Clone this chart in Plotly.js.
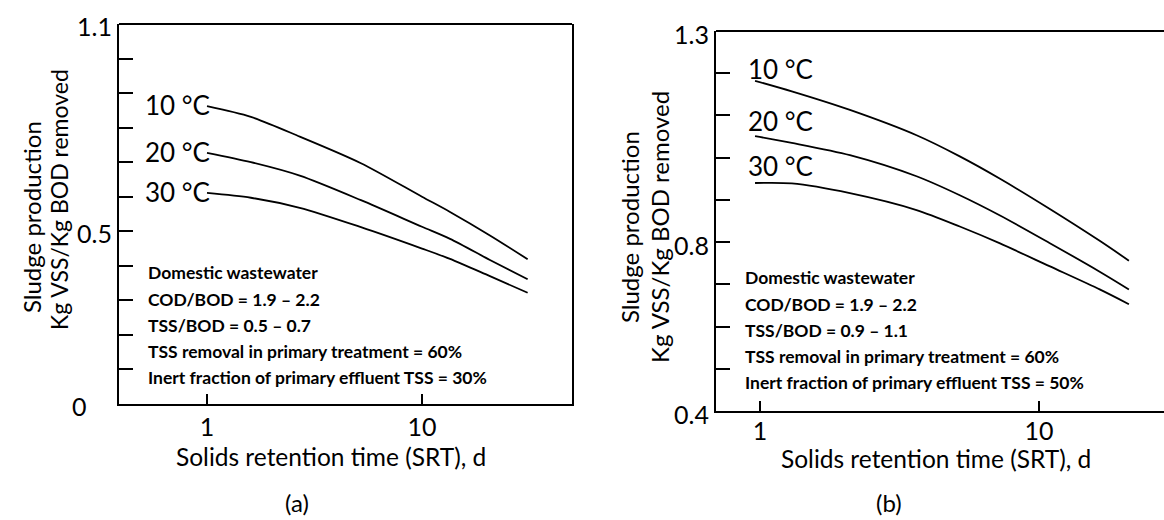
<!DOCTYPE html>
<html><head><meta charset="utf-8">
<script src="https://cdn.plot.ly/plotly-3.0.1.min.js"></script>
<style>html,body{margin:0;padding:0;background:#fff}#chart{width:1164px;height:520px}</style>
</head><body><div id="chart"></div>
<script>
// ---------- data ----------
const tempLabels = ['10 °C', '20 °C', '30 °C'];

// Panel (a)
const srtA = [1, 1.6, 2.7, 5.2, 10, 13.5, 20.7, 31];
const sludgeA10 = [0.862, 0.831, 0.774, 0.697, 0.600, 0.556, 0.488, 0.419];
const sludgeA20 = [0.727, 0.700, 0.661, 0.590, 0.513, 0.478, 0.417, 0.361];
const sludgeA30 = [0.611, 0.597, 0.568, 0.512, 0.450, 0.420, 0.370, 0.322];

// Panel (b)
const srtB = [0.96, 1.3, 2.1, 3.64, 5.2, 7.25, 10.9, 16.5, 21];
const sludgeB10 = [1.182, 1.157, 1.113, 1.053, 1.003, 0.950, 0.879, 0.803, 0.756];
const sludgeB20 = [1.051, 1.035, 1.006, 0.956, 0.911, 0.863, 0.798, 0.730, 0.688];
const sludgeB30 = [0.940, 0.939, 0.916, 0.876, 0.837, 0.797, 0.743, 0.688, 0.653];

// ticks
const xTickVals = [1, 10];
const xTickText = ['1', '10'];
const yTickValsA = [0, 0.1, 0.2, 0.3, 0.4, 0.5, 0.6, 0.7, 0.8, 0.9, 1.0, 1.1];
const yTickTextA = ['0\u00a0\u00a0\u00a0\u00a0', '', '', '', '', '0.5', '', '', '', '', '', '1.1'];
const yTickValsB = [0.4, 0.5, 0.6, 0.7, 0.8, 0.9, 1.0, 1.1, 1.2, 1.3];
const yTickTextB = ['0.4', '', '', '', '0.8', '', '', '', '', '1.3'];

const notesA = ['Domestic wastewater', 'COD/BOD = 1.9 \u2013 2.2', 'TSS/BOD = 0.5 \u2013 0.7',
  'TSS removal in primary treatment = 60%', 'Inert fraction of primary effluent TSS = 30%'];
const notesB = ['Domestic wastewater', 'COD/BOD = 1.9 \u2013 2.2', 'TSS/BOD = 0.9 \u2013 1.1',
  'TSS removal in primary treatment = 60%', 'Inert fraction of primary effluent TSS = 50%'];

const xTitle = 'Solids retention time (SRT), d';
const yTitle1 = 'Sludge production';
const yTitle2 = 'Kg VSS/Kg BOD removed';

// ---------- build ----------
const W = 1164, H = 520;
const px = v => v / W, py = v => 1 - v / H;
const FONT = 'Lato, "Open Sans", sans-serif';
const lineStyle = {color: '#000', width: 1.8, shape: 'spline', smoothing: 0.8};

function tr(x, y, xa, ya) {
  return {x: x, y: y, xaxis: xa, yaxis: ya, type: 'scatter', mode: 'lines',
    line: lineStyle, hoverinfo: 'skip', showlegend: false};
}
const data = [
  tr(srtA, sludgeA10, 'x', 'y'), tr(srtA, sludgeA20, 'x', 'y'), tr(srtA, sludgeA30, 'x', 'y'),
  tr(srtB, sludgeB10, 'x2', 'y2'), tr(srtB, sludgeB20, 'x2', 'y2'), tr(srtB, sludgeB30, 'x2', 'y2')
];

const axCommon = {showgrid: false, zeroline: false, linecolor: '#000', linewidth: 2,
  tickcolor: '#000', ticks: 'inside', tickmode: 'array', tickfont: {family: FONT, size: 25, color: '#000'}};

const annotations = [];
const seriesA = [sludgeA10, sludgeA20, sludgeA30];
const seriesB = [sludgeB10, sludgeB20, sludgeB30];
const shiftB = [12, 15, 17];
tempLabels.forEach((t, i) => {
  annotations.push({xref: 'x', yref: 'y', x: Math.log10(srtA[0]), y: seriesA[i][0], text: t,
    showarrow: false, xanchor: 'right', yanchor: 'middle', xshift: 4, yshift: 1, borderpad: 0,
    font: {family: FONT, size: 26, color: '#000'}});
  annotations.push({xref: 'x2', yref: 'y2', x: Math.log10(srtB[0]), y: seriesB[i][0], text: t,
    showarrow: false, xanchor: 'left', yanchor: 'middle', xshift: -8, yshift: shiftB[i], borderpad: 0,
    font: {family: FONT, size: 26, color: '#000'}});
});
const noteYA = [272, 299, 325, 351, 377];
const noteYB = [277, 304, 330, 356, 382];
notesA.forEach((t, i) => annotations.push({xref: 'paper', yref: 'paper', x: px(147), y: py(noteYA[i]),
  text: '<b>' + t + '</b>', showarrow: false, xanchor: 'left', yanchor: 'middle', borderpad: 0,
  font: {family: FONT, size: 17.5, color: '#000'}}));
notesB.forEach((t, i) => annotations.push({xref: 'paper', yref: 'paper', x: px(744), y: py(noteYB[i]),
  text: '<b>' + t + '</b>', showarrow: false, xanchor: 'left', yanchor: 'middle', borderpad: 0,
  font: {family: FONT, size: 17.5, color: '#000'}}));

function txt(x, y, t, size, angle) {
  annotations.push({xref: 'paper', yref: 'paper', x: px(x), y: py(y), text: t, showarrow: false,
    xanchor: 'center', yanchor: 'middle', textangle: angle || 0, borderpad: 0,
    font: {family: FONT, size: size, color: '#000'}});
}
txt(331, 456, xTitle, 24.5);
txt(936, 458, xTitle, 24.5);
txt(297, 502, '(a)', 24);
txt(889, 502, '(b)', 24);
txt(31, 217, yTitle1, 24, -90);
txt(59, 200, yTitle2, 23, -90);
txt(629, 227, yTitle1, 24, -90);
txt(659, 227, yTitle2, 24, -90);

const layout = {
  width: W, height: H, margin: {l: 0, r: 0, t: 0, b: 0},
  paper_bgcolor: '#fff', plot_bgcolor: '#fff', showlegend: false,
  font: {family: FONT, color: '#000', size: 22},
  xaxis: Object.assign({}, axCommon, {type: 'log', domain: [px(119), px(572)], range: [-0.4093, 1.6977],
    anchor: 'y', showline: true, ticklen: 10, tickwidth: 1.5, tickvals: xTickVals, ticktext: xTickText}),
  yaxis: Object.assign({}, axCommon, {domain: [py(404), py(24)], range: [0, 1.1], anchor: 'x',
    showline: true, mirror: true, ticklen: 14, tickwidth: 2, tickvals: yTickValsA, ticktext: yTickTextA,
    ticklabelshift: 3}),
  xaxis2: Object.assign({}, axCommon, {type: 'log', domain: [px(716), 1], range: [-0.1577, 1.448],
    anchor: 'y2', showline: true, ticklen: 10, tickwidth: 1.5, tickvals: xTickVals, ticktext: xTickText,
    ticklabelstandoff: -3}),
  yaxis2: Object.assign({}, axCommon, {domain: [py(411), py(31)], range: [0.4, 1.3], anchor: 'x2',
    showline: true, ticklen: 14, tickwidth: 2, tickvals: yTickValsB, ticktext: yTickTextB,
    ticklabelshift: 4}),
  yaxis3: Object.assign({}, axCommon, {overlaying: 'y2', side: 'right', anchor: 'x2', range: [0.4, 1.3],
    showline: false, showticklabels: false, ticklen: 12, tickwidth: 2, tickvals: yTickValsB}),
  shapes: [
    {type: 'line', xref: 'x domain', yref: 'y domain', x0: 0, x1: 1, y0: 1, y1: 1, line: {color: '#000', width: 2}},
    {type: 'line', xref: 'x2 domain', yref: 'y2 domain', x0: 0, x1: 1, y0: 1, y1: 1, line: {color: '#000', width: 2}}
  ],
  annotations: annotations
};
Plotly.newPlot('chart', data, layout, {staticPlot: true, displayModeBar: false});
</script></body></html>
